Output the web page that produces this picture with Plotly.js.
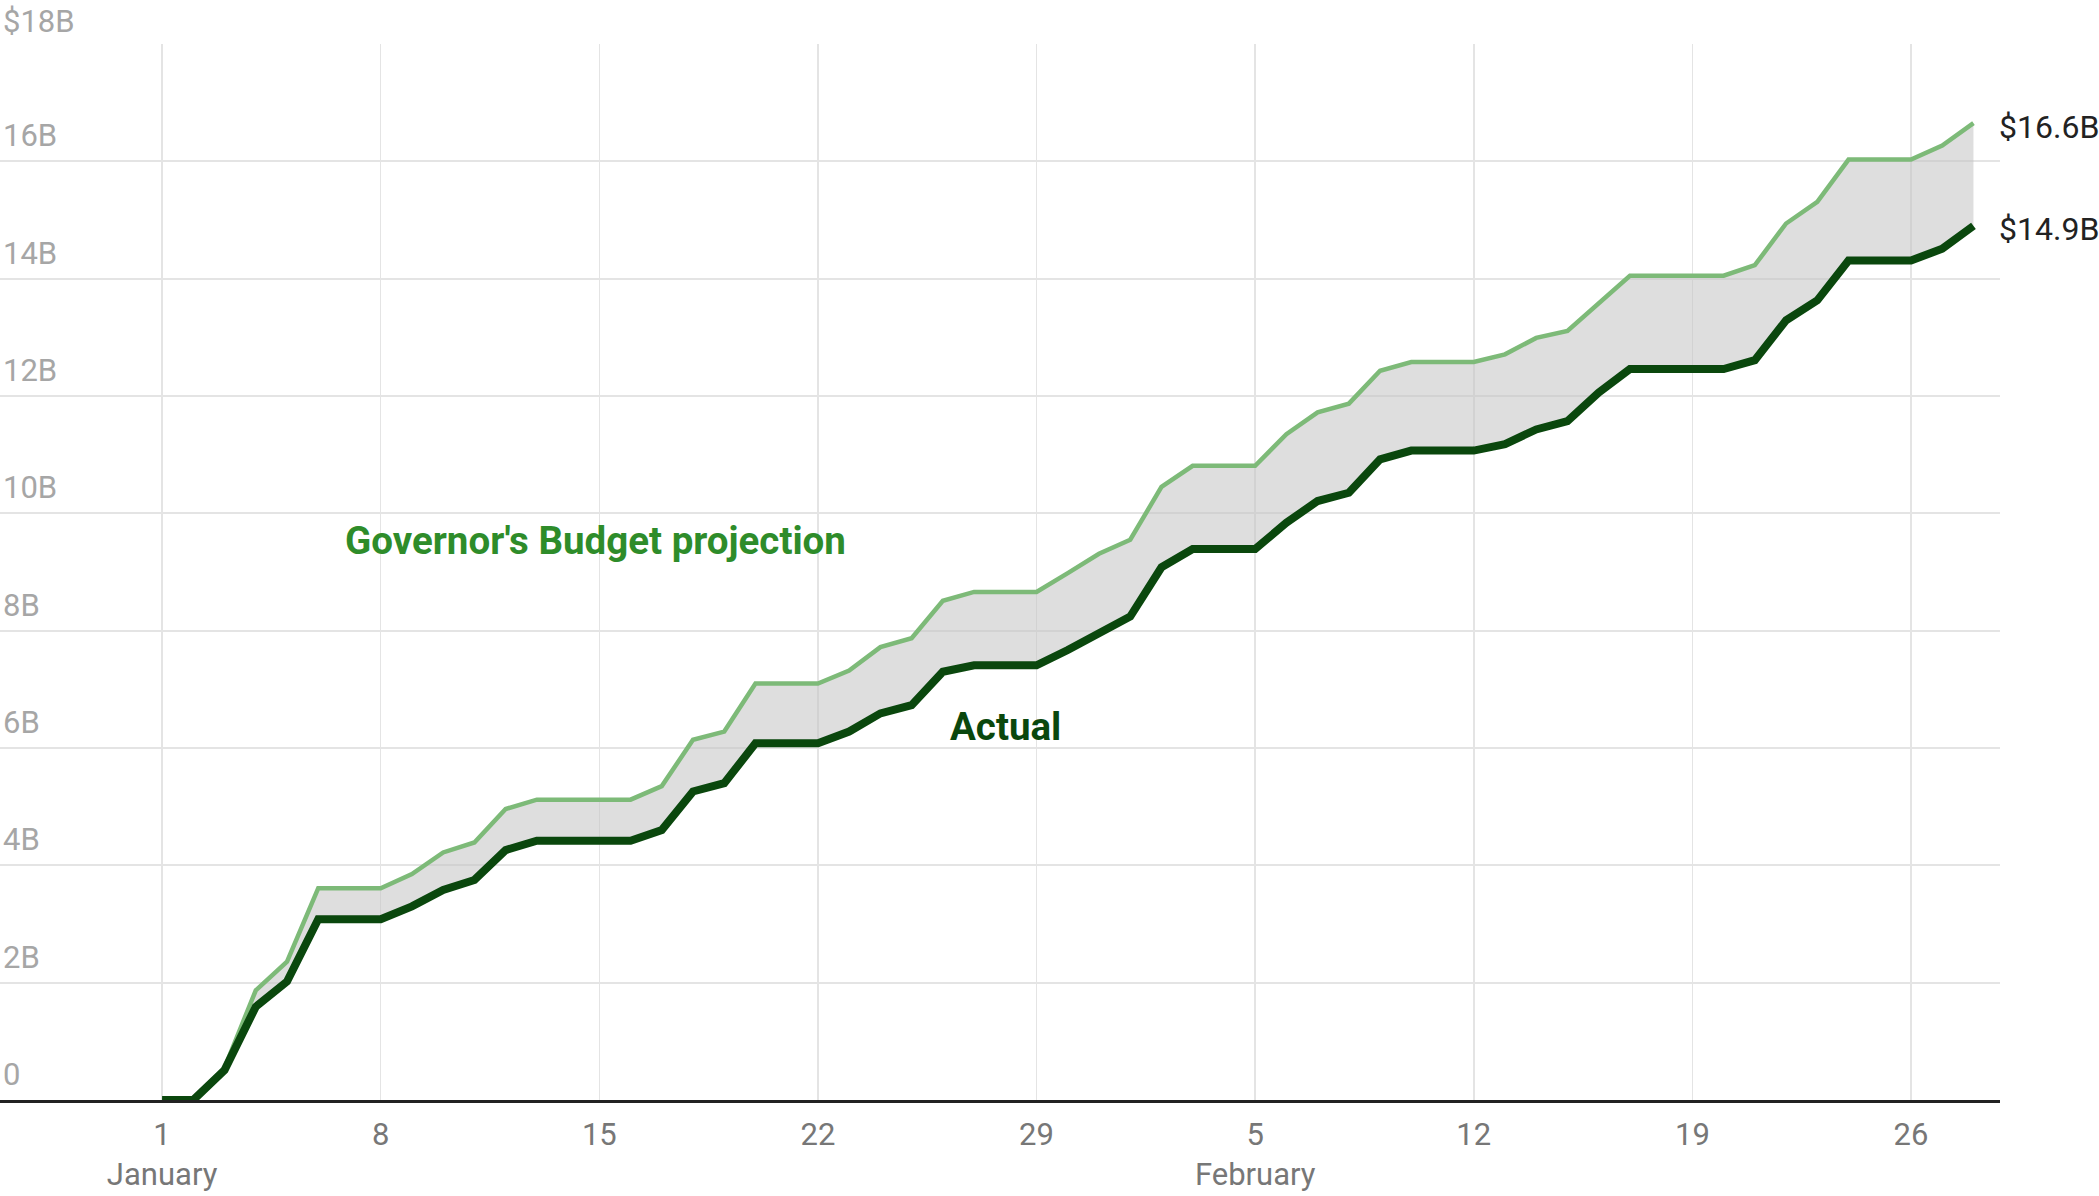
<!DOCTYPE html>
<html>
<head>
<meta charset="utf-8">
<script src="https://cdn.plot.ly/plotly-3.0.1.min.js"></script>
<style>
  html, body { margin: 0; padding: 0; background: #ffffff; }
  #chart { width: 2099px; height: 1196px; }
</style>
</head>
<body>
<div id="chart"></div>
<script>
// ---- Data (values in billions of dollars) ----
const dates = [
  '2024-01-01','2024-01-02','2024-01-03','2024-01-04','2024-01-05','2024-01-06','2024-01-07',
  '2024-01-08','2024-01-09','2024-01-10','2024-01-11','2024-01-12','2024-01-13','2024-01-14',
  '2024-01-15','2024-01-16','2024-01-17','2024-01-18','2024-01-19','2024-01-20','2024-01-21',
  '2024-01-22','2024-01-23','2024-01-24','2024-01-25','2024-01-26','2024-01-27','2024-01-28',
  '2024-01-29','2024-01-30','2024-01-31','2024-02-01','2024-02-02','2024-02-03','2024-02-04',
  '2024-02-05','2024-02-06','2024-02-07','2024-02-08','2024-02-09','2024-02-10','2024-02-11',
  '2024-02-12','2024-02-13','2024-02-14','2024-02-15','2024-02-16','2024-02-17','2024-02-18',
  '2024-02-19','2024-02-20','2024-02-21','2024-02-22','2024-02-23','2024-02-24','2024-02-25',
  '2024-02-26','2024-02-27','2024-02-28'
];

const projection = [
  0, 0, 0.55, 1.87, 2.36, 3.61, 3.61,
  3.61, 3.85, 4.22, 4.39, 4.96, 5.12, 5.12,
  5.12, 5.12, 5.35, 6.14, 6.28, 7.10, 7.10,
  7.10, 7.32, 7.72, 7.87, 8.51, 8.66, 8.66,
  8.66, 8.98, 9.31, 9.55, 10.45, 10.81, 10.81,
  10.81, 11.35, 11.72, 11.87, 12.43, 12.58, 12.58,
  12.58, 12.71, 12.99, 13.11, 13.59, 14.05, 14.05,
  14.05, 14.05, 14.23, 14.94, 15.31, 16.03, 16.03,
  16.03, 16.27, 16.65
];

const actual = [
  0, 0, 0.51, 1.59, 2.02, 3.08, 3.08,
  3.08, 3.30, 3.58, 3.75, 4.26, 4.42, 4.42,
  4.42, 4.42, 4.60, 5.26, 5.40, 6.08, 6.08,
  6.08, 6.28, 6.59, 6.73, 7.30, 7.41, 7.41,
  7.41, 7.67, 7.95, 8.24, 9.08, 9.39, 9.39,
  9.39, 9.84, 10.21, 10.35, 10.92, 11.07, 11.07,
  11.07, 11.18, 11.43, 11.57, 12.06, 12.46, 12.46,
  12.46, 12.46, 12.61, 13.29, 13.63, 14.31, 14.31,
  14.31, 14.51, 14.90
];

const xTickVals = ['2024-01-01','2024-01-08','2024-01-15','2024-01-22','2024-01-29',
                   '2024-02-05','2024-02-12','2024-02-19','2024-02-26'];
const xTickText = ['1<br>January','8','15','22','29','5<br>February','12','19','26'];

const yTickVals = [0, 2, 4, 6, 8, 10, 12, 14, 16, 18];
const yTickText = ['0','2B','4B','6B','8B','10B','12B','14B','16B','$18B'];

const endLabels = ['$16.6B', '$14.9B'];
const seriesNames = ["Governor's Budget projection", 'Actual'];

// ---- Style ----
const lightGreen = '#7dba78';
const darkGreen = '#0a470d';
const labelGreen = '#2e8c2a';
const font = 'Roboto, "Open Sans", sans-serif';
const yLabelColor = '#a6a6a6';
const yLabelSize = 31;

const traces = [
  // invisible base for the gap fill
  { x: dates, y: actual, type: 'scatter', mode: 'lines',
    line: { width: 0, color: 'rgba(0,0,0,0)' }, hoverinfo: 'skip', showlegend: false },
  // gray fill between actual and projection
  { x: dates, y: projection, type: 'scatter', mode: 'lines', fill: 'tonexty',
    fillcolor: 'rgba(195,195,195,0.55)',
    line: { width: 0, color: 'rgba(0,0,0,0)' }, hoverinfo: 'skip', showlegend: false },
  // projection line
  { x: dates, y: projection, type: 'scatter', mode: 'lines', name: seriesNames[0],
    line: { color: lightGreen, width: 4.5 }, showlegend: false },
  // actual line
  { x: dates, y: actual, type: 'scatter', mode: 'lines', name: seriesNames[1],
    line: { color: darkGreen, width: 8 }, showlegend: false }
];

const lastDate = dates[dates.length - 1];
const topIdx = yTickVals.length - 1;
// The top label sits above the plot area, so it is drawn as an annotation
const yTickTextShown = yTickText.map((t, i) => (i === topIdx ? '' : t));

const layout = {
  width: 2099,
  height: 1196,
  margin: { l: 0, r: 99, t: 44, b: 96, pad: 0 },
  paper_bgcolor: '#ffffff',
  plot_bgcolor: '#ffffff',
  showlegend: false,
  font: { family: font },
  xaxis: {
    type: 'date',
    range: ['2023-12-26 19:26', '2024-02-28 20:24'],
    tickmode: 'array',
    tickvals: xTickVals,
    ticktext: xTickText,
    ticks: '',
    ticklabelstandoff: 5,
    showgrid: true,
    gridcolor: '#e4e4e4',
    gridwidth: 1.5,
    showline: true,
    linecolor: '#222222',
    linewidth: 2.5,
    zeroline: false,
    tickfont: { family: font, size: 31, color: '#777777' },
    fixedrange: true
  },
  yaxis: {
    range: [0, 18],
    tickmode: 'array',
    tickvals: yTickVals,
    ticktext: yTickTextShown,
    ticks: '',
    ticklabelposition: 'inside top',
    ticklabelshift: -4,
    showgrid: true,
    gridcolor: '#e4e4e4',
    gridwidth: 2,
    zeroline: false,
    showline: false,
    tickfont: { family: font, size: yLabelSize, color: yLabelColor },
    fixedrange: true
  },
  annotations: [
    { x: 0, y: yTickVals[topIdx], xref: 'paper', yref: 'y',
      text: yTickText[topIdx], showarrow: false, xanchor: 'left', yanchor: 'bottom',
      xshift: 1, yshift: 2, font: { family: font, size: yLabelSize, color: yLabelColor } },
    { x: lastDate, y: projection[projection.length - 1], xref: 'x', yref: 'y',
      text: endLabels[0], showarrow: false, xanchor: 'left', yanchor: 'middle',
      xshift: 24, yshift: -4, font: { family: font, size: 32, color: '#222222' } },
    { x: lastDate, y: actual[actual.length - 1], xref: 'x', yref: 'y',
      text: endLabels[1], showarrow: false, xanchor: 'left', yanchor: 'middle',
      xshift: 24, yshift: -3, font: { family: font, size: 32, color: '#222222' } },
    { x: '2024-01-06 19:00', y: 9.53, xref: 'x', yref: 'y',
      text: '<b>' + seriesNames[0] + '</b>', showarrow: false, xanchor: 'left', yanchor: 'middle',
      font: { family: font, size: 38.5, color: labelGreen } },
    { x: '2024-01-26 04:00', y: 6.37, xref: 'x', yref: 'y',
      text: '<b>' + seriesNames[1] + '</b>', showarrow: false, xanchor: 'left', yanchor: 'middle',
      font: { family: font, size: 38.5, color: darkGreen } }
  ]
};

Plotly.newPlot('chart', traces, layout, { displayModeBar: false, staticPlot: true });
</script>
</body>
</html>
